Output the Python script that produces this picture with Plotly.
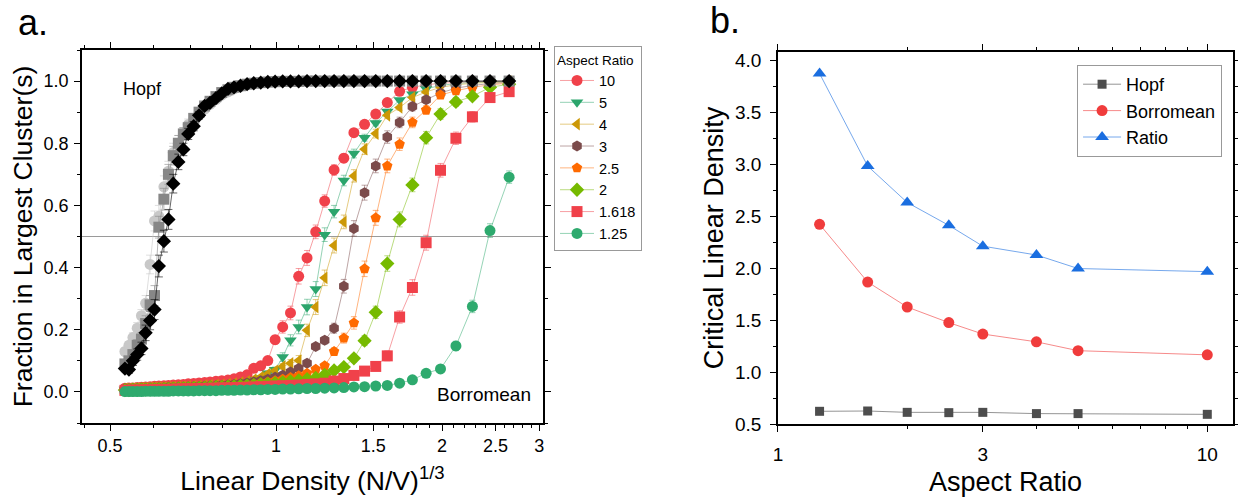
import plotly.graph_objects as go

FONT = "Liberation Sans, Arial, Helvetica, sans-serif"

# ---------------- panel a: shared density grid ----------------
density = [0.532, 0.541, 0.550, 0.560, 0.570, 0.580, 0.591, 0.602, 0.613, 0.626,
           0.638, 0.651, 0.665, 0.679, 0.693, 0.709, 0.725, 0.742, 0.759, 0.778,
           0.797, 0.818, 0.839, 0.862, 0.886, 0.911, 0.938, 0.966, 0.996, 1.028,
           1.062, 1.099, 1.138, 1.180, 1.225, 1.274, 1.327, 1.384, 1.447, 1.516,
           1.591, 1.675, 1.767, 1.871, 1.987, 2.119, 2.270, 2.443, 2.646]

# Borromean fractions, one list per aspect ratio
borr_10 = [0.012, 0.013, 0.013, 0.014, 0.015, 0.016, 0.017, 0.018, 0.019, 0.020,
           0.021, 0.022, 0.023, 0.024, 0.026, 0.027, 0.029, 0.030, 0.032, 0.034,
           0.036, 0.038, 0.042, 0.048, 0.055, 0.076, 0.084, 0.101, 0.168, 0.209,
           0.254, 0.372, 0.431, 0.515, 0.614, 0.714, 0.752, 0.834, 0.861, 0.894,
           0.931, 0.967, 0.980, 0.988, 0.993, 0.996, 0.998, 0.999, 1.000]
borr_5 = [0.008, 0.008, 0.009, 0.009, 0.010, 0.010, 0.011, 0.011, 0.012, 0.012,
          0.013, 0.013, 0.014, 0.015, 0.015, 0.016, 0.017, 0.018, 0.019, 0.020,
          0.021, 0.023, 0.025, 0.028, 0.032, 0.038, 0.045, 0.060, 0.071, 0.112,
          0.166, 0.209, 0.273, 0.331, 0.506, 0.580, 0.680, 0.767, 0.818, 0.865,
          0.902, 0.939, 0.958, 0.975, 0.986, 0.992, 0.996, 0.998, 0.999]
borr_4 = [0.010, 0.010, 0.011, 0.011, 0.012, 0.012, 0.013, 0.013, 0.014, 0.014,
          0.015, 0.015, 0.016, 0.016, 0.017, 0.018, 0.019, 0.020, 0.021, 0.022,
          0.023, 0.025, 0.027, 0.030, 0.034, 0.040, 0.048, 0.058, 0.068, 0.082,
          0.092, 0.101, 0.198, 0.273, 0.367, 0.471, 0.547, 0.695, 0.781, 0.831,
          0.890, 0.915, 0.947, 0.965, 0.980, 0.988, 0.993, 0.996, 0.998]
borr_3 = [0.009, 0.009, 0.010, 0.010, 0.011, 0.011, 0.012, 0.012, 0.013, 0.013,
          0.014, 0.014, 0.015, 0.015, 0.016, 0.017, 0.017, 0.018, 0.019, 0.020,
          0.021, 0.022, 0.024, 0.026, 0.029, 0.032, 0.036, 0.041, 0.047, 0.054,
          0.064, 0.075, 0.092, 0.146, 0.166, 0.205, 0.340, 0.526, 0.641, 0.727,
          0.820, 0.867, 0.918, 0.940, 0.962, 0.977, 0.986, 0.992, 0.996]
borr_2_5 = [0.007, 0.007, 0.008, 0.008, 0.009, 0.009, 0.010, 0.010, 0.011, 0.011,
            0.012, 0.012, 0.013, 0.013, 0.014, 0.014, 0.015, 0.016, 0.016, 0.017,
            0.018, 0.019, 0.020, 0.022, 0.024, 0.026, 0.029, 0.032, 0.036, 0.041,
            0.046, 0.052, 0.060, 0.073, 0.084, 0.130, 0.173, 0.222, 0.396, 0.560,
            0.727, 0.797, 0.867, 0.907, 0.955, 0.969, 0.980, 0.988, 0.993]
borr_2 = [0.006, 0.006, 0.007, 0.007, 0.008, 0.008, 0.008, 0.009, 0.009, 0.010,
          0.010, 0.011, 0.011, 0.012, 0.012, 0.013, 0.013, 0.014, 0.015, 0.015,
          0.016, 0.017, 0.018, 0.019, 0.020, 0.022, 0.024, 0.026, 0.028, 0.031,
          0.034, 0.037, 0.041, 0.045, 0.055, 0.069, 0.080, 0.108, 0.165, 0.256,
          0.413, 0.555, 0.666, 0.818, 0.894, 0.933, 0.951, 0.980, 0.990]
borr_1_618 = [0.005, 0.005, 0.006, 0.006, 0.006, 0.007, 0.007, 0.007, 0.008, 0.008,
              0.008, 0.009, 0.009, 0.010, 0.010, 0.010, 0.011, 0.011, 0.012, 0.012,
              0.013, 0.013, 0.014, 0.014, 0.015, 0.016, 0.017, 0.018, 0.019, 0.020,
              0.021, 0.022, 0.024, 0.026, 0.028, 0.035, 0.043, 0.053, 0.067, 0.082,
              0.116, 0.241, 0.336, 0.480, 0.713, 0.816, 0.885, 0.947, 0.966]
borr_1_25 = [0.001, 0.001, 0.001, 0.001, 0.001, 0.002, 0.002, 0.002, 0.002, 0.002,
             0.002, 0.003, 0.003, 0.003, 0.003, 0.003, 0.004, 0.004, 0.004, 0.004,
             0.005, 0.005, 0.005, 0.006, 0.006, 0.007, 0.007, 0.008, 0.008, 0.009,
             0.009, 0.010, 0.011, 0.011, 0.012, 0.013, 0.014, 0.016, 0.017, 0.019,
             0.021, 0.028, 0.039, 0.060, 0.074, 0.148, 0.275, 0.519, 0.691]

# error bars for the Borromean series
err_10 = [0.003, 0.003, 0.003, 0.003, 0.003, 0.003, 0.003, 0.003, 0.003, 0.003,
          0.003, 0.003, 0.003, 0.003, 0.003, 0.003, 0.003, 0.003, 0.003, 0.003,
          0.003, 0.003, 0.004, 0.004, 0.005, 0.006, 0.007, 0.009, 0.014, 0.020,
          0.022, 0.025, 0.024, 0.022, 0.020, 0.017, 0.014, 0.011, 0.009, 0.007,
          0.005, 0.004, 0.003, 0.002, 0.002, 0.001, 0.001, 0.001, 0.001]
err_5 = [0.003, 0.003, 0.003, 0.003, 0.003, 0.003, 0.003, 0.003, 0.003, 0.003,
         0.003, 0.003, 0.003, 0.003, 0.003, 0.003, 0.003, 0.003, 0.003, 0.003,
         0.003, 0.003, 0.003, 0.004, 0.004, 0.005, 0.006, 0.007, 0.009, 0.014,
         0.018, 0.022, 0.025, 0.024, 0.022, 0.020, 0.017, 0.014, 0.011, 0.009,
         0.007, 0.005, 0.004, 0.003, 0.002, 0.002, 0.001, 0.001, 0.001]
err_4 = [0.003, 0.003, 0.003, 0.003, 0.003, 0.003, 0.003, 0.003, 0.003, 0.003,
         0.003, 0.003, 0.003, 0.003, 0.003, 0.003, 0.003, 0.003, 0.003, 0.003,
         0.003, 0.003, 0.003, 0.003, 0.004, 0.004, 0.005, 0.006, 0.007, 0.009,
         0.012, 0.016, 0.020, 0.024, 0.025, 0.024, 0.022, 0.020, 0.017, 0.014,
         0.011, 0.009, 0.007, 0.005, 0.004, 0.003, 0.002, 0.002, 0.001]
err_3 = [0.003, 0.003, 0.003, 0.003, 0.003, 0.003, 0.003, 0.003, 0.003, 0.003,
         0.003, 0.003, 0.003, 0.003, 0.003, 0.003, 0.003, 0.003, 0.003, 0.003,
         0.003, 0.003, 0.003, 0.003, 0.003, 0.003, 0.003, 0.004, 0.004, 0.005,
         0.005, 0.006, 0.007, 0.009, 0.012, 0.016, 0.022, 0.025, 0.024, 0.022,
         0.020, 0.017, 0.014, 0.011, 0.009, 0.007, 0.005, 0.004, 0.003]
err_2_5 = [0.003, 0.003, 0.003, 0.003, 0.003, 0.003, 0.003, 0.003, 0.003, 0.003,
           0.003, 0.003, 0.003, 0.003, 0.003, 0.003, 0.003, 0.003, 0.003, 0.003,
           0.003, 0.003, 0.003, 0.003, 0.003, 0.003, 0.003, 0.003, 0.004, 0.004,
           0.005, 0.005, 0.006, 0.007, 0.009, 0.012, 0.016, 0.020, 0.025, 0.024,
           0.022, 0.020, 0.017, 0.014, 0.011, 0.009, 0.007, 0.005, 0.004]
err_2 = [0.003, 0.003, 0.003, 0.003, 0.003, 0.003, 0.003, 0.003, 0.003, 0.003,
         0.003, 0.003, 0.003, 0.003, 0.003, 0.003, 0.003, 0.003, 0.003, 0.003,
         0.003, 0.003, 0.003, 0.003, 0.003, 0.003, 0.003, 0.003, 0.003, 0.003,
         0.004, 0.004, 0.005, 0.005, 0.006, 0.007, 0.009, 0.012, 0.016, 0.020,
         0.025, 0.024, 0.022, 0.020, 0.017, 0.014, 0.011, 0.009, 0.007]
err_1_618 = [0.003, 0.003, 0.003, 0.003, 0.003, 0.003, 0.003, 0.003, 0.003, 0.003,
             0.003, 0.003, 0.003, 0.003, 0.003, 0.003, 0.003, 0.003, 0.003, 0.003,
             0.003, 0.003, 0.003, 0.003, 0.003, 0.003, 0.003, 0.003, 0.003, 0.003,
             0.003, 0.003, 0.004, 0.004, 0.005, 0.005, 0.006, 0.007, 0.009, 0.012,
             0.016, 0.020, 0.025, 0.024, 0.022, 0.020, 0.017, 0.014, 0.011]
err_1_25 = [0.002, 0.002, 0.002, 0.002, 0.002, 0.002, 0.002, 0.002, 0.002, 0.002,
            0.002, 0.002, 0.002, 0.002, 0.002, 0.002, 0.002, 0.002, 0.002, 0.002,
            0.002, 0.002, 0.002, 0.002, 0.002, 0.002, 0.002, 0.002, 0.002, 0.002,
            0.002, 0.002, 0.002, 0.002, 0.002, 0.002, 0.003, 0.003, 0.003, 0.003,
            0.004, 0.005, 0.006, 0.008, 0.010, 0.015, 0.020, 0.022, 0.020]

# Hopf fractions (grey-scale curves)
hopf_light = [0.130, 0.150, 0.175, 0.205, 0.245, 0.285, 0.410, 0.550, 0.565, 0.660,
              0.710, 0.770, 0.800, 0.830, 0.860, 0.875, 0.895, 0.910, 0.925, 0.940,
              0.955, 0.965, 0.975, 0.982, 0.988, 0.992, 0.995, 0.997, 0.998, 0.999,
              0.999, 1.000, 1.000, 1.000, 1.000, 1.000, 1.000, 1.000, 1.000, 1.000,
              1.000, 1.000, 1.000, 1.000, 1.000, 1.000, 1.000, 1.000, 1.000]
hopf_mid = [0.090, 0.100, 0.120, 0.150, 0.170, 0.220, 0.280, 0.310, 0.530, 0.620,
            0.700, 0.760, 0.800, 0.830, 0.850, 0.880, 0.900, 0.920, 0.935, 0.950,
            0.963, 0.972, 0.980, 0.985, 0.990, 0.993, 0.995, 0.997, 0.998, 0.999,
            0.999, 0.999, 1.000, 1.000, 1.000, 1.000, 1.000, 1.000, 1.000, 1.000,
            1.000, 1.000, 1.000, 1.000, 1.000, 1.000, 1.000, 1.000, 1.000]
hopf_dark = [0.075, 0.072, 0.100, 0.120, 0.140, 0.190, 0.230, 0.265, 0.405, 0.485,
             0.555, 0.670, 0.740, 0.780, 0.830, 0.855, 0.890, 0.920, 0.930, 0.945,
             0.960, 0.975, 0.980, 0.985, 0.990, 0.993, 0.995, 0.997, 0.998, 0.999,
             0.999, 0.999, 1.000, 1.000, 1.000, 1.000, 1.000, 1.000, 1.000, 1.000,
             1.000, 1.000, 1.000, 1.000, 1.000, 1.000, 1.000, 1.000, 1.000]
hopf_err = [0.010, 0.012, 0.015, 0.018, 0.020, 0.025, 0.030, 0.032, 0.035, 0.035,
            0.032, 0.030, 0.025, 0.020, 0.018, 0.015, 0.012, 0.010, 0.008, 0.007,
            0.006, 0.005, 0.004, 0.003, 0.003, 0.002, 0.002, 0.002, 0.002, 0.002,
            0.002, 0.002, 0.002, 0.002, 0.002, 0.002, 0.002, 0.002, 0.002, 0.002,
            0.002, 0.002, 0.002, 0.002, 0.002, 0.002, 0.002, 0.002, 0.002]

x_ticks_a = [0.5, 1, 1.5, 2, 2.5, 3]
x_ticktext_a = ["0.5", "1", "1.5", "2", "2.5", "3"]
x_minor_a = [0.45, 0.6, 0.7, 0.8, 0.9, 1.1, 1.2, 1.3, 1.4, 1.6, 1.7, 1.8, 1.9,
             2.1, 2.2, 2.3, 2.4, 2.6, 2.7, 2.8, 2.9]

# ---------------- panel b ----------------
aspect_ratio = [1.25, 1.618, 2, 2.5, 3, 4, 5, 10]
crit_hopf = [0.622, 0.625, 0.612, 0.609, 0.612, 0.600, 0.600, 0.593]
crit_borromean = [2.42, 1.865, 1.625, 1.475, 1.365, 1.29, 1.205, 1.165]
crit_ratio = [3.87, 2.98, 2.63, 2.41, 2.21, 2.125, 1.995, 1.965]
x_ticks_b = [1, 3, 10]
x_minor_b = [2, 4, 5, 6, 7, 8, 9]

fig = go.Figure()

borr_series = [
    ("10", borr_10, err_10, "circle", (240, 65, 74)),
    ("5", borr_5, err_5, "triangle-down", (43, 165, 108)),
    ("4", borr_4, err_4, "triangle-left", (204, 152, 6)),
    ("3", borr_3, err_3, "hexagon", (123, 75, 75)),
    ("2.5", borr_2_5, err_2_5, "pentagon", (255, 106, 0)),
    ("2", borr_2, err_2, "diamond", (118, 186, 0)),
    ("1.618", borr_1_618, err_1_618, "square", (240, 65, 74)),
    ("1.25", borr_1_25, err_1_25, "circle", (46, 170, 110)),
]

for name, ys, es, sym, (r, g, b) in borr_series:
    solid = f"rgb({r},{g},{b})"
    light = f"rgba({r},{g},{b},0.5)"
    fig.add_trace(go.Scatter(
        x=density, y=ys, mode="lines+markers", name=name,
        xaxis="x", yaxis="y", legend="legend",
        marker=dict(symbol=sym, size=11, color=solid, line=dict(width=0)),
        line=dict(color=light, width=1),
        error_y=dict(type="data", array=es, color=light, thickness=1, width=3),
    ))

hopf_series = [
    (hopf_light, "circle", (200, 200, 200)),
    (hopf_mid, "square", (135, 135, 135)),
    (hopf_dark, "diamond", (0, 0, 0)),
]
for ys, sym, (r, g, b) in hopf_series:
    solid = f"rgb({r},{g},{b})"
    light = f"rgba({r},{g},{b},0.6)"
    fig.add_trace(go.Scatter(
        x=density, y=ys, mode="lines+markers", showlegend=False,
        xaxis="x", yaxis="y",
        marker=dict(symbol=sym, size=11, color=solid, line=dict(width=0)),
        line=dict(color=light, width=1),
        error_y=dict(type="data", array=hopf_err, color=light, thickness=1, width=4),
    ))

b_series = [
    ("Hopf", crit_hopf, "square", (77, 77, 77), 9),
    ("Borromean", crit_borromean, "circle", (240, 60, 60), 11),
    ("Ratio", crit_ratio, "triangle-up", (26, 110, 224), 12),
]
for name, ys, sym, (r, g, b), sz in b_series:
    fig.add_trace(go.Scatter(
        x=aspect_ratio, y=ys, mode="lines+markers", name=name,
        xaxis="x2", yaxis="y2", legend="legend2",
        marker=dict(symbol=sym, size=sz, color=f"rgb({r},{g},{b})", line=dict(width=0)),
        line=dict(color=f"rgba({r},{g},{b},0.6)", width=1),
    ))

axis_common = dict(
    showline=True, linecolor="black", linewidth=1.5, mirror="ticks",
    ticks="outside", ticklen=6, tickwidth=1.3, tickcolor="black",
    showgrid=False, zeroline=False, automargin=False,
)

fig.update_layout(
    width=1238, height=500, autosize=False,
    margin=dict(l=0, r=0, t=0, b=0, pad=0),
    paper_bgcolor="white", plot_bgcolor="white",
    font=dict(family=FONT, color="black"),
    xaxis=dict(
        **axis_common, domain=[0.0662, 0.4386], anchor="y",
        type="log", range=[-0.352, 0.484],
        tickmode="array", tickvals=x_ticks_a, ticktext=x_ticktext_a,
        tickfont=dict(size=18),
        minor=dict(tickmode="array", tickvals=x_minor_a, ticks="outside",
                   ticklen=3.5, tickwidth=1, tickcolor="black"),
        title=dict(text="Linear Density (N/V)<sup>1/3</sup>",
                   font=dict(size=26.5), standoff=16),
    ),
    yaxis=dict(
        **axis_common, domain=[0.154, 0.9], anchor="x",
        range=[-0.1, 1.1], tickmode="linear", tick0=0, dtick=0.2,
        tickformat=".1f", tickfont=dict(size=18), ticklabelstandoff=2,
        minor=dict(dtick=0.1, ticks="outside", ticklen=3.5, tickwidth=1,
                   tickcolor="black"),
        title=dict(text="Fraction in Largest Cluster(s)", font=dict(size=26.5),
                   standoff=3),
    ),
    xaxis2=dict(
        **axis_common, domain=[0.6284, 0.996], anchor="y2",
        type="log", range=[0, 1.06],
        tickmode="array", tickvals=x_ticks_b, ticktext=[str(v) for v in x_ticks_b],
        tickfont=dict(size=19), ticklabelstandoff=6,
        minor=dict(tickmode="array", tickvals=x_minor_b, ticks="outside",
                   ticklen=3.5, tickwidth=1, tickcolor="black"),
        title=dict(text="Aspect Ratio", font=dict(size=27), standoff=9),
    ),
    yaxis2=dict(
        **axis_common, domain=[0.152, 0.896], anchor="x2",
        range=[0.5, 4.077], tickmode="linear", tick0=0.5, dtick=0.5,
        tickformat=".1f", tickfont=dict(size=19), ticklabelstandoff=5,
        minor=dict(dtick=0.25, ticks="outside", ticklen=3.5, tickwidth=1,
                   tickcolor="black"),
        title=dict(text="Critical Linear Density", font=dict(size=27), standoff=4),
    ),
    legend=dict(
        x=0.4475, y=0.908, xanchor="left", yanchor="top",
        bgcolor="white", bordercolor="#999999", borderwidth=1,
        font=dict(size=14.5), itemwidth=34,
        title=dict(text="Aspect Ratio", font=dict(size=13.5)),
        tracegroupgap=0,
    ),
    legend2=dict(
        x=0.870, y=0.870, xanchor="left", yanchor="top",
        bgcolor="white", bordercolor="#999999", borderwidth=1,
        font=dict(size=18), itemwidth=38,
    ),
    showlegend=True,
)

fig.add_shape(type="line", xref="x domain", x0=0, x1=1, yref="y", y0=0.5, y1=0.5,
              line=dict(color="#9a9a9a", width=1.2), layer="below")

fig.add_annotation(text="Hopf", x=0.1155, y=0.822, xref="paper", yref="paper",
                   showarrow=False, font=dict(size=18), xanchor="center", yanchor="middle")
fig.add_annotation(text="Borromean", x=0.391, y=0.212, xref="paper", yref="paper",
                   showarrow=False, font=dict(size=19), xanchor="center", yanchor="middle")
fig.add_annotation(text="a.", x=0.013, y=0.955, xref="paper", yref="paper",
                   showarrow=False, font=dict(size=36), xanchor="left", yanchor="middle")
fig.add_annotation(text="b.", x=0.572, y=0.96, xref="paper", yref="paper",
                   showarrow=False, font=dict(size=36), xanchor="left", yanchor="middle")

fig.write_html("out.html",
               config={"displayModeBar": False},
               post_script="document.body.style.margin='0px';document.body.style.overflow='hidden';")
